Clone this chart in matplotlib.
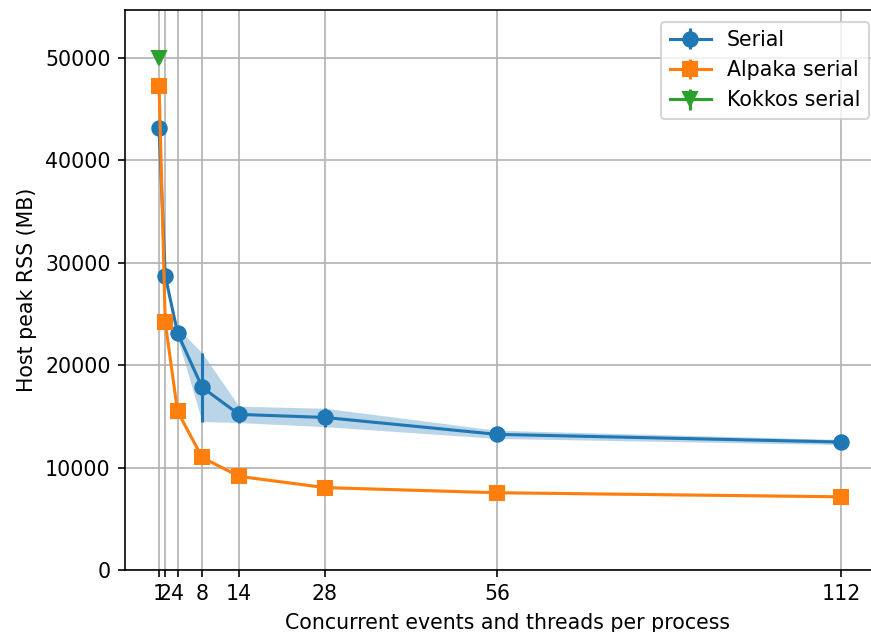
import matplotlib
matplotlib.use("Agg")
import matplotlib.pyplot as plt
import numpy as np

threads = [1, 2, 4, 8, 14, 28, 56, 112]

serial_mean = [43150, 28750, 23150, 17850, 15200, 14900, 13250, 12500]
serial_err = [250, 300, 500, 3350, 800, 900, 400, 250]

alpaka_mean = [47250, 24200, 15500, 11000, 9150, 8050, 7550, 7150]
alpaka_err = [150, 150, 150, 150, 100, 100, 100, 100]

kokkos_x = [1]
kokkos_mean = [50000]
kokkos_err = [100]

xticks = [1, 2, 4, 8, 14, 28, 56, 112]

dpi = 148
fig = plt.figure(figsize=(871 / dpi, 632 / dpi), dpi=dpi)
ax = fig.add_axes([125 / 871, 62 / 632, 765 / 871, 560 / 632])

sm = np.array(serial_mean); se = np.array(serial_err)
am = np.array(alpaka_mean); ae = np.array(alpaka_err)

ax.errorbar(threads, serial_mean, yerr=serial_err, marker="o", markersize=7, color="C0", label="Serial")
ax.fill_between(threads, sm - se, sm + se, color="C0", alpha=0.3, linewidth=0)
ax.errorbar(threads, alpaka_mean, yerr=alpaka_err, marker="s", markersize=7, color="C1", label="Alpaka serial")
ax.fill_between(threads, am - ae, am + ae, color="C1", alpha=0.3, linewidth=0)
ax.errorbar(kokkos_x, kokkos_mean, yerr=kokkos_err, marker="v", markersize=7, color="C2", label="Kokkos serial")

ax.set_xticks(xticks)
ax.set_xticklabels([str(t) for t in xticks])
# keep the same data-to-pixel scale as the reference (axes extend past the right edge)
x_lo = -4.55
x_hi = x_lo + (117.55 - x_lo) * 765 / 750
ax.set_xlim(x_lo, x_hi)
ax.set_ylim(0, 54700)
ax.grid(True)
ax.set_xlabel("Concurrent events and threads per process")
ax.set_ylabel("Host peak RSS (MB)")
ax.legend(loc="upper right", bbox_to_anchor=(879 / 871, 0.982), bbox_transform=fig.transFigure)

fig.savefig("out.png", dpi=dpi)
